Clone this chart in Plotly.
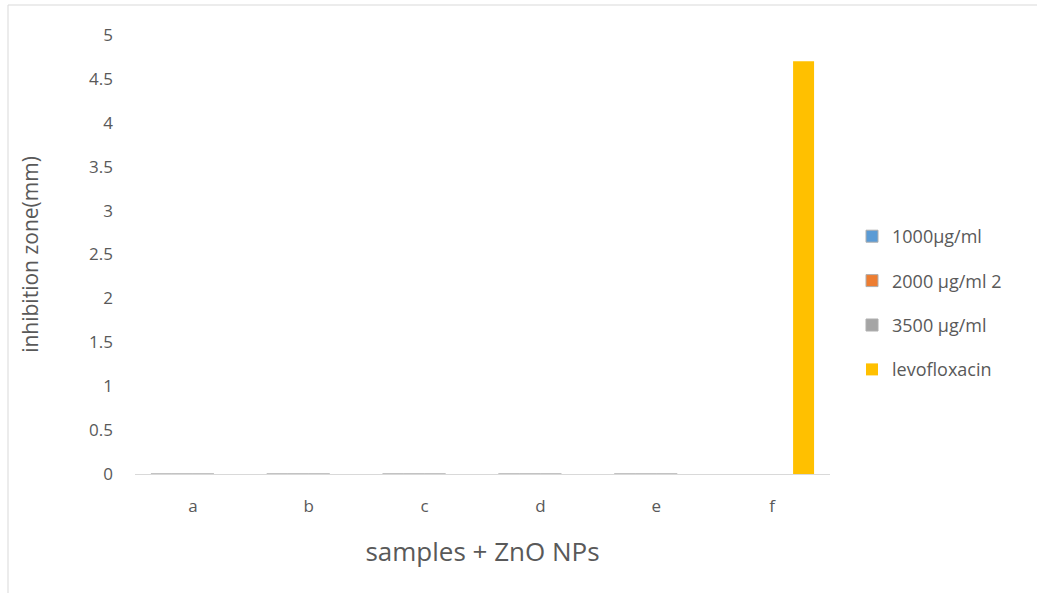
import plotly.graph_objects as go

# Samples treated with ZnO nanoparticles
categories = ["a", "b", "c", "d", "e", "f"]

# Inhibition zone (mm) per concentration
conc_1000 = [0, 0, 0, 0, 0, None]
conc_2000 = [0, 0, 0, 0, 0, None]
conc_3500 = [0, 0, 0, 0, 0, None]
levofloxacin = [None, None, None, None, None, 4.7]

series_names = ["1000µg/ml", "2000 µg/ml 2", "3500 µg/ml", "levofloxacin"]
series_values = [conc_1000, conc_2000, conc_3500, levofloxacin]
series_colors = ["#5B9BD5", "#ED7D31", "#A5A5A5", "#FFC000"]

W, H = 1037, 593
FONT = "Open Sans"
TXT = "#595959"

fig = go.Figure()
for i, (name, vals, col) in enumerate(zip(series_names, series_values, series_colors)):
    outline = dict(color="#AFAFAF", width=1) if i < 3 else dict(width=0)
    fig.add_trace(go.Bar(
        name=name, x=categories, y=vals,
        marker=dict(color=col, line=outline),
        legendgroup=f"g{i}",
    ))

fig.update_layout(
    width=W, height=H,
    margin=dict(l=0, r=0, t=0, b=0, autoexpand=False),
    paper_bgcolor="white", plot_bgcolor="white",
    barmode="group", bargap=0.275, bargroupgap=0,
    font=dict(family=FONT, color=TXT, size=16),
    xaxis=dict(
        domain=[135 / W, 830 / W], automargin=False,
        showgrid=False, showline=True, linecolor="#D9D9D9", linewidth=1,
        ticks="", ticklabelstandoff=17, tickfont=dict(size=17, color=TXT),
        title=dict(text="samples + ZnO NPs", font=dict(size=26, color=TXT), standoff=26),
    ),
    yaxis=dict(
        domain=[(H - 474) / H, (H - 35) / H], automargin=False,
        range=[0, 5], dtick=0.5,
        showgrid=False, zeroline=False, showline=False,
        ticks="", ticklabelstandoff=21, tickfont=dict(size=17, color=TXT),
        title=dict(text="inhibition zone(mm)", font=dict(size=21, color=TXT), standoff=44),
    ),
    legend=dict(
        x=852 / W, y=(H - 218) / H, xanchor="left", yanchor="top",
        font=dict(size=18, color=TXT), tracegroupgap=18,
        itemwidth=30, bgcolor="rgba(0,0,0,0)",
    ),
    shapes=[dict(
        type="rect", xref="paper", yref="paper",
        x0=8 / W, x1=1.05, y0=-0.05, y1=(H - 5) / H,
        line=dict(color="#D9D9D9", width=1), fillcolor="rgba(0,0,0,0)", layer="below",
    )],
)

fig.write_html("out.html")
